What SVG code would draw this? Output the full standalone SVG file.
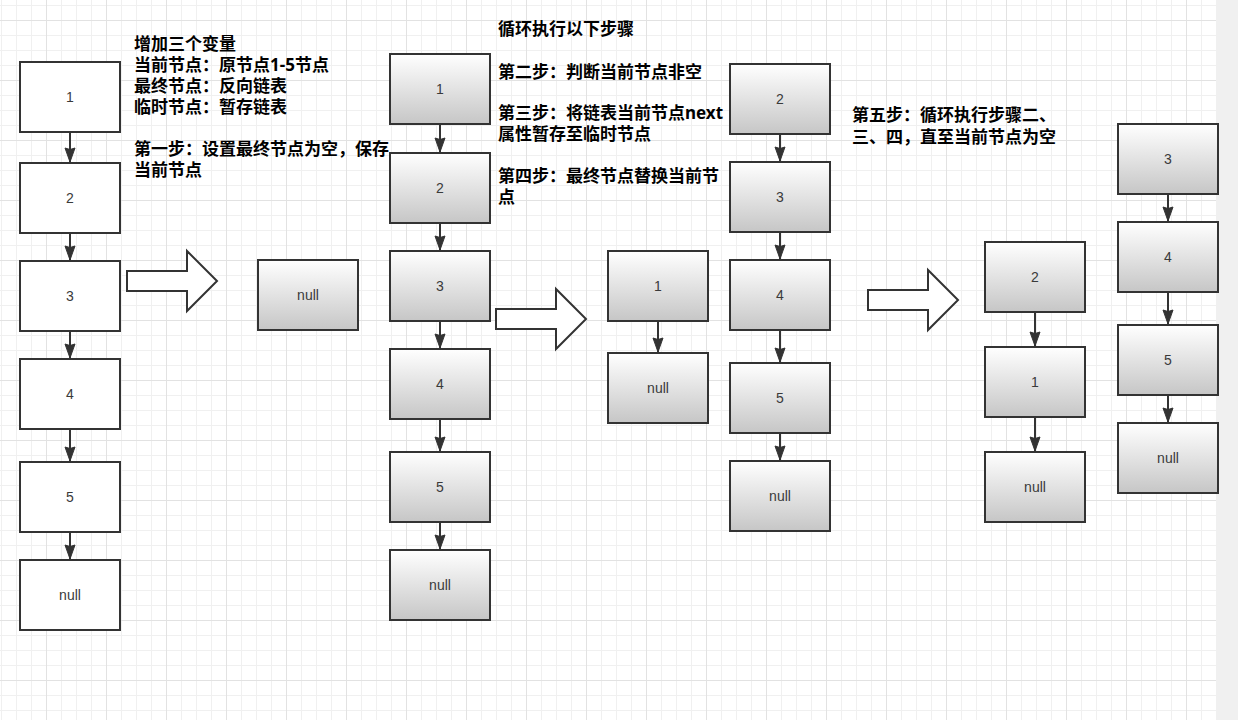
<svg xmlns="http://www.w3.org/2000/svg" width="1238" height="720" viewBox="0 0 1238 720">
<style>
.box{stroke:#333;stroke-width:2}
.w{fill:#fff}
.g{fill:url(#grad)}
.lbl{font-family:"Liberation Sans",Arial,sans-serif;font-size:14px;fill:#3a3a3a;text-anchor:middle}
.note{font-family:"Noto Sans","Noto Sans CJK SC",sans-serif;font-size:17px;font-weight:bold;fill:#000}
.con{stroke:#333;stroke-width:2;fill:none;marker-end:url(#arr)}
.blk{fill:#fff;stroke:#333;stroke-width:2;stroke-linejoin:miter}
</style>
<defs>
<linearGradient id="grad" x1="0" y1="0" x2="0" y2="1">
<stop offset="0" stop-color="#ffffff"/>
<stop offset="1" stop-color="#c6c6c6"/>
</linearGradient>
<pattern id="grid" x="46" y="20" width="60" height="60" patternUnits="userSpaceOnUse">
<rect x="0" y="0" width="60" height="60" fill="#fff"/>
<rect x="15" y="0" width="1" height="60" fill="#f0f0f0"/>
<rect x="30" y="0" width="1" height="60" fill="#f0f0f0"/>
<rect x="45" y="0" width="1" height="60" fill="#f0f0f0"/>
<rect x="0" y="15" width="60" height="1" fill="#f0f0f0"/>
<rect x="0" y="30" width="60" height="1" fill="#f0f0f0"/>
<rect x="0" y="45" width="60" height="1" fill="#f0f0f0"/>
<rect x="0" y="0" width="1" height="60" fill="#e2e2e2"/>
<rect x="0" y="0" width="60" height="1" fill="#e2e2e2"/>
</pattern>
<marker id="arr" viewBox="-16 -7 17 14" refX="0" refY="0" markerWidth="17" markerHeight="14" markerUnits="userSpaceOnUse" orient="auto">
<path d="M0,0 L-14,-5 L-12.5,0 L-14,5 Z" fill="#333" stroke="#333" stroke-width="1"/>
</marker>
</defs>
<rect x="0" y="0" width="1216" height="720" fill="url(#grid)"/>
<rect x="1216" y="0" width="22" height="720" fill="#f0f0f0"/>

<g id="notes">
<text class="note" x="134" y="50">增加三个变量</text>
<text class="note" x="134" y="71">当前节点：原节点1-5节点</text>
<text class="note" x="134" y="92">最终节点：反向链表</text>
<text class="note" x="134" y="113">临时节点：暂存链表</text>
<text class="note" x="134" y="155">第一步：设置最终节点为空，保存</text>
<text class="note" x="134" y="176">当前节点</text>
<text class="note" x="498" y="35">循环执行以下步骤</text>
<text class="note" x="498" y="77.5">第二步：判断当前节点非空</text>
<text class="note" x="498" y="118.5">第三步：将链表当前节点next</text>
<text class="note" x="498" y="140">属性暂存至临时节点</text>
<text class="note" x="498" y="181.5">第四步：最终节点替换当前节</text>
<text class="note" x="498" y="203">点</text>
<text class="note" x="852" y="121">第五步：循环执行步骤二、</text>
<text class="note" x="852" y="142.5">三、四，直至当前节点为空</text>
</g>

<g id="connectors">
<line class="con" x1="70" y1="132" x2="70" y2="162"/>
<line class="con" x1="70" y1="233" x2="70" y2="260"/>
<line class="con" x1="70" y1="331" x2="70" y2="358"/>
<line class="con" x1="70" y1="429" x2="70" y2="461"/>
<line class="con" x1="70" y1="532" x2="70" y2="559"/>
<line class="con" x1="440" y1="124" x2="440" y2="152"/>
<line class="con" x1="440" y1="223" x2="440" y2="250"/>
<line class="con" x1="440" y1="321" x2="440" y2="348"/>
<line class="con" x1="440" y1="419" x2="440" y2="451"/>
<line class="con" x1="440" y1="522" x2="440" y2="549"/>
<line class="con" x1="658" y1="321" x2="658" y2="352"/>
<line class="con" x1="780" y1="134" x2="780" y2="161"/>
<line class="con" x1="780" y1="232" x2="780" y2="259"/>
<line class="con" x1="780" y1="330" x2="780" y2="362"/>
<line class="con" x1="780" y1="433" x2="780" y2="460"/>
<line class="con" x1="1035" y1="312" x2="1035" y2="346"/>
<line class="con" x1="1035" y1="417" x2="1035" y2="451"/>
<line class="con" x1="1168" y1="194" x2="1168" y2="221"/>
<line class="con" x1="1168" y1="292" x2="1168" y2="324"/>
<line class="con" x1="1168" y1="395" x2="1168" y2="422"/>
</g>

<g id="big-arrows">
<polygon id="arrow1" class="blk" points="127,271 187,271 187,251 217,281 187,311 187,291 127,291"/>
<polygon id="arrow2" class="blk" points="496,309 556,309 556,289 586,319 556,349 556,329 496,329"/>
<polygon id="arrow3" class="blk" points="868,290 928,290 928,270 958,300 928,330 928,310 868,310"/>
</g>

<g id="c1-n1"><rect class="box w" x="20" y="62" width="100" height="70"/><text class="lbl" x="70" y="102">1</text></g>
<g id="c1-n2"><rect class="box w" x="20" y="163" width="100" height="70"/><text class="lbl" x="70" y="203">2</text></g>
<g id="c1-n3"><rect class="box w" x="20" y="261" width="100" height="70"/><text class="lbl" x="70" y="301">3</text></g>
<g id="c1-n4"><rect class="box w" x="20" y="359" width="100" height="70"/><text class="lbl" x="70" y="399">4</text></g>
<g id="c1-n5"><rect class="box w" x="20" y="462" width="100" height="70"/><text class="lbl" x="70" y="502">5</text></g>
<g id="c1-null"><rect class="box w" x="20" y="560" width="100" height="70"/><text class="lbl" x="70" y="600">null</text></g>

<g id="c2a-null"><rect class="box g" x="258" y="260" width="100" height="70"/><text class="lbl" x="308" y="300">null</text></g>

<g id="c2-n1"><rect class="box g" x="390" y="54" width="100" height="70"/><text class="lbl" x="440" y="94">1</text></g>
<g id="c2-n2"><rect class="box g" x="390" y="153" width="100" height="70"/><text class="lbl" x="440" y="193">2</text></g>
<g id="c2-n3"><rect class="box g" x="390" y="251" width="100" height="70"/><text class="lbl" x="440" y="291">3</text></g>
<g id="c2-n4"><rect class="box g" x="390" y="349" width="100" height="70"/><text class="lbl" x="440" y="389">4</text></g>
<g id="c2-n5"><rect class="box g" x="390" y="452" width="100" height="70"/><text class="lbl" x="440" y="492">5</text></g>
<g id="c2-null"><rect class="box g" x="390" y="550" width="100" height="70"/><text class="lbl" x="440" y="590">null</text></g>

<g id="c3a-n1"><rect class="box g" x="608" y="251" width="100" height="70"/><text class="lbl" x="658" y="291">1</text></g>
<g id="c3a-null"><rect class="box g" x="608" y="353" width="100" height="70"/><text class="lbl" x="658" y="393">null</text></g>

<g id="c3b-n2"><rect class="box g" x="730" y="64" width="100" height="70"/><text class="lbl" x="780" y="104">2</text></g>
<g id="c3b-n3"><rect class="box g" x="730" y="162" width="100" height="70"/><text class="lbl" x="780" y="202">3</text></g>
<g id="c3b-n4"><rect class="box g" x="730" y="260" width="100" height="70"/><text class="lbl" x="780" y="300">4</text></g>
<g id="c3b-n5"><rect class="box g" x="730" y="363" width="100" height="70"/><text class="lbl" x="780" y="403">5</text></g>
<g id="c3b-null"><rect class="box g" x="730" y="461" width="100" height="70"/><text class="lbl" x="780" y="501">null</text></g>

<g id="c4a-n2"><rect class="box g" x="985" y="242" width="100" height="70"/><text class="lbl" x="1035" y="282">2</text></g>
<g id="c4a-n1"><rect class="box g" x="985" y="347" width="100" height="70"/><text class="lbl" x="1035" y="387">1</text></g>
<g id="c4a-null"><rect class="box g" x="985" y="452" width="100" height="70"/><text class="lbl" x="1035" y="492">null</text></g>

<g id="c4b-n3"><rect class="box g" x="1118" y="124" width="100" height="70"/><text class="lbl" x="1168" y="164">3</text></g>
<g id="c4b-n4"><rect class="box g" x="1118" y="222" width="100" height="70"/><text class="lbl" x="1168" y="262">4</text></g>
<g id="c4b-n5"><rect class="box g" x="1118" y="325" width="100" height="70"/><text class="lbl" x="1168" y="365">5</text></g>
<g id="c4b-null"><rect class="box g" x="1118" y="423" width="100" height="70"/><text class="lbl" x="1168" y="463">null</text></g>
</svg>
